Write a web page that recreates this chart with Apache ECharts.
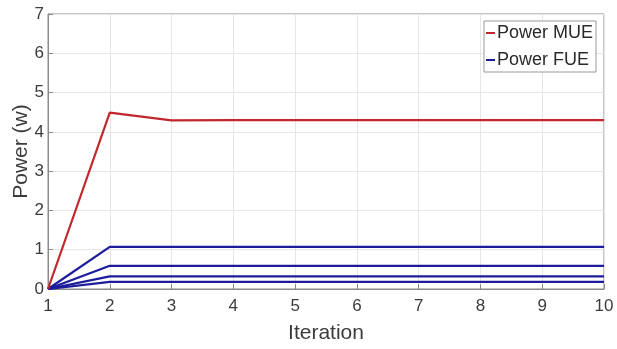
<!DOCTYPE html>
<html>
<head>
<meta charset="utf-8">
<script src="https://cdn.jsdelivr.net/npm/echarts@6/dist/echarts.min.js"></script>
<style>
  html, body { margin: 0; padding: 0; background: #fff; }
  #chart { width: 617px; height: 349px; }
</style>
</head>
<body>
<div id="chart"></div>
<script>
const iterations = [1, 2, 3, 4, 5, 6, 7, 8, 9, 10];
const powerMUE = [0, 4.49, 4.29, 4.3, 4.3, 4.3, 4.3, 4.3, 4.3, 4.3];
const powerFUE1 = [0, 1.07, 1.07, 1.07, 1.07, 1.07, 1.07, 1.07, 1.07, 1.07];
const powerFUE2 = [0, 0.59, 0.59, 0.59, 0.59, 0.59, 0.59, 0.59, 0.59, 0.59];
const powerFUE3 = [0, 0.32, 0.32, 0.32, 0.32, 0.32, 0.32, 0.32, 0.32, 0.32];
const powerFUE4 = [0, 0.18, 0.18, 0.18, 0.18, 0.18, 0.18, 0.18, 0.18, 0.18];

const red = '#c0282c';
const blue = '#1c1c9c';
const font = 'Liberation Sans, Arial, sans-serif';

const pairs = vals => iterations.map((x, i) => [x, vals[i]]);

function line(name, vals, color) {
  return {
    name: name,
    type: 'line',
    data: pairs(vals),
    symbol: 'none',
    lineStyle: { color: color, width: 2.2 },
    itemStyle: { color: color },
    z: name === 'Power MUE' ? 3 : 2
  };
}

const chart = echarts.init(document.getElementById('chart'));
chart.setOption({
  animation: false,
  backgroundColor: '#fff',
  grid: {
    left: 48, right: 13, top: 14, bottom: 60,
    outerBoundsMode: 'none',
    show: true, borderColor: '#8a8a8a', borderWidth: 1
  },
  legend: {
    orient: 'vertical',
    right: 21, top: 21,
    data: ['Power MUE', 'Power FUE'],
    icon: 'rect',
    itemWidth: 9, itemHeight: 2,
    itemGap: 9,
    padding: [3, 3, 3, 2],
    borderColor: '#9a9a9a', borderWidth: 1,
    backgroundColor: '#fff',
    textStyle: { fontFamily: font, fontSize: 18, color: '#2a2a2a', padding: [0, 0, 0, -3] }
  },
  xAxis: {
    type: 'value',
    min: 1, max: 10, interval: 1,
    name: 'Iteration',
    nameLocation: 'middle',
    nameGap: 34,
    nameMoveOverlap: false,
    nameTextStyle: { fontFamily: font, fontSize: 21, color: '#3c3c3c' },
    axisLine: { lineStyle: { color: '#8a8a8a' } },
    axisTick: { inside: true, length: 5, lineStyle: { color: '#8a8a8a' } },
    axisLabel: { fontFamily: font, fontSize: 17, color: '#3c3c3c', margin: 9 },
    splitLine: { show: true, lineStyle: { color: '#e6e6e6' } }
  },
  yAxis: {
    type: 'value',
    min: 0, max: 7, interval: 1,
    name: 'Power (w)',
    nameLocation: 'middle',
    nameGap: 16,
    nameMoveOverlap: false,
    nameTextStyle: { fontFamily: font, fontSize: 21, color: '#3c3c3c' },
    axisLine: { show: true, lineStyle: { color: '#8a8a8a' } },
    axisTick: { show: true, inside: true, length: 5, lineStyle: { color: '#8a8a8a' } },
    axisLabel: { fontFamily: font, fontSize: 17, color: '#3c3c3c', margin: 4 },
    splitLine: { show: true, lineStyle: { color: '#e6e6e6' } }
  },
  series: [
    line('Power MUE', powerMUE, red),
    line('Power FUE', powerFUE1, blue),
    line('Power FUE', powerFUE2, blue),
    line('Power FUE', powerFUE3, blue),
    line('Power FUE', powerFUE4, blue)
  ]
});
</script>
</body>
</html>
